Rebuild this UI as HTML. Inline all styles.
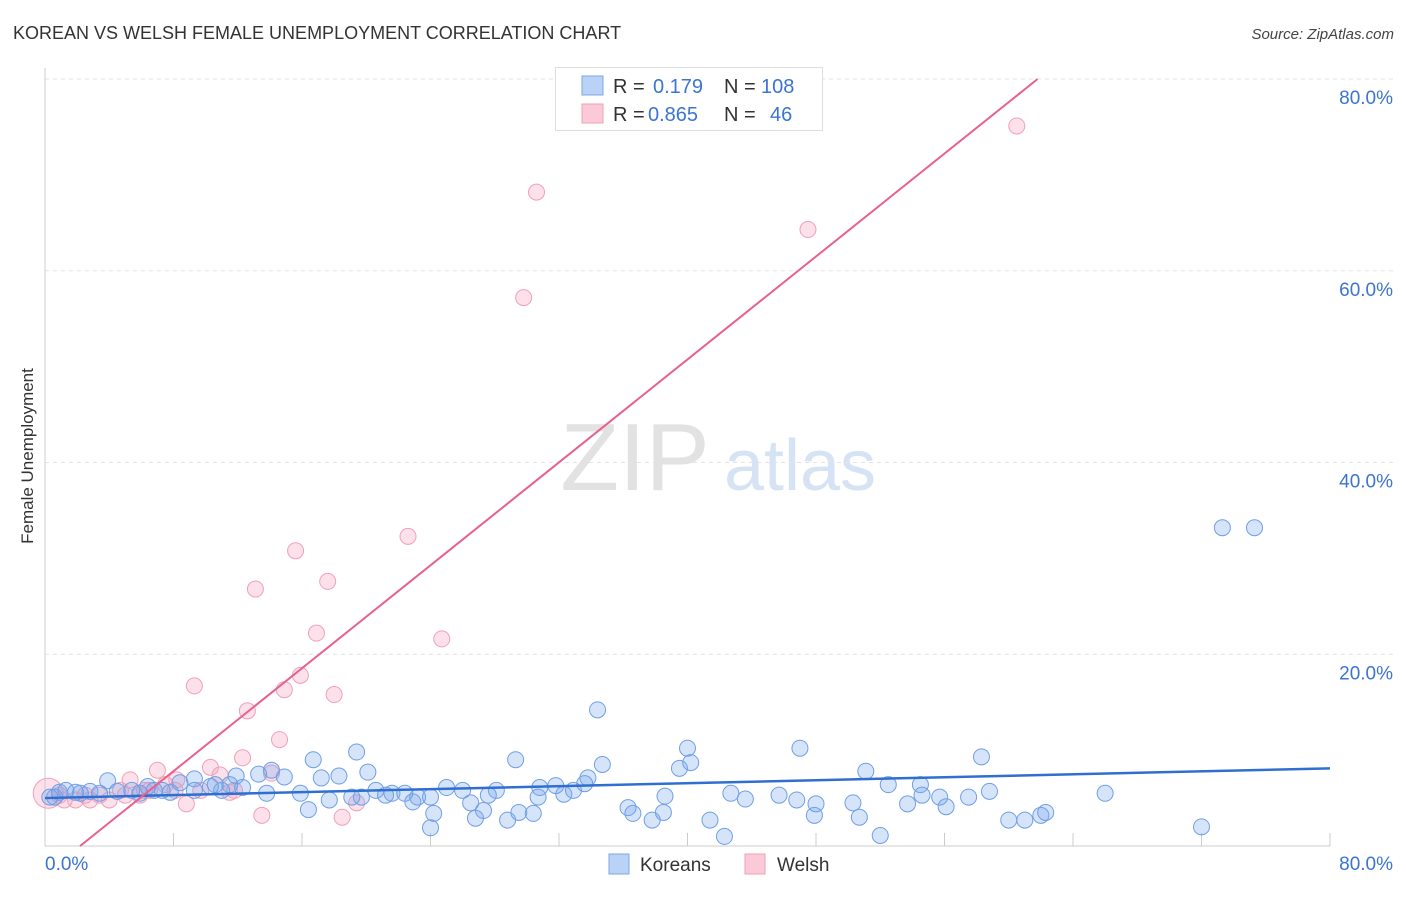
<!DOCTYPE html>
<html><head><meta charset="utf-8"><style>
body{margin:0;background:#fff;font-family:"Liberation Sans",sans-serif;}
svg text{font-family:"Liberation Sans",sans-serif;}
</style></head><body>
<svg id="chart" width="1406" height="892" xmlns="http://www.w3.org/2000/svg">
<text x="13" y="39" font-size="18" fill="#333">KOREAN VS WELSH FEMALE UNEMPLOYMENT CORRELATION CHART</text>
<text x="1394" y="39" font-size="15" fill="#444" text-anchor="end" font-style="italic">Source: ZipAtlas.com</text>
<text transform="translate(33,456) rotate(-90)" font-size="17" fill="#333" text-anchor="middle">Female Unemployment</text>
<g>
<text x="635" y="490" font-size="96" fill="#e2e2e2" text-anchor="middle" font-family="Liberation Serif,serif">ZIP</text>
<text x="800" y="490" font-size="72" fill="#d6e3f5" text-anchor="middle">atlas</text>
</g>
<g id="grid"></g><g id="marks"></g>
<g>
<rect x="555.5" y="67.5" width="267" height="63" fill="#fff" stroke="#ddd"/>
<rect x="582" y="76" width="21" height="19" fill="#b9d2f5" stroke="#7aa8e8"/>
<rect x="582" y="104" width="21" height="19" fill="#fbc9d8" stroke="#f0a0b8"/>
<text x="613" y="93" font-size="20" fill="#333">R =</text><text x="653" y="93" font-size="20" fill="#3b74d1">0.179</text>
<text x="724" y="93" font-size="20" fill="#333">N =</text><text x="761" y="93" font-size="20" fill="#3b74d1">108</text>
<text x="613" y="121" font-size="20" fill="#333">R =</text><text x="648" y="121" font-size="20" fill="#3b74d1">0.865</text>
<text x="724" y="121" font-size="20" fill="#333">N =</text><text x="770" y="121" font-size="20" fill="#3b74d1">46</text>
</g>
<g>
<rect x="609" y="854" width="20" height="20" fill="#b9d2f5" stroke="#7aa8e8"/>
<text x="640" y="871" font-size="19" fill="#333">Koreans</text>
<rect x="745" y="854" width="20" height="20" fill="#fbc9d8" stroke="#f0a0b8"/>
<text x="777" y="871" font-size="19" fill="#333">Welsh</text>
</g>
</svg>
<script>
const yTicks=[20,40,60,80];
const xTickLabels=["0.0%","80.0%"];
const koreanX=[73.3,75.3,34.4,40.0,47.0,29.3,19.4,16.7,58.3,40.2,51.1,39.5,34.7,66.0,33.8,31.8,25.0,26.0,28.1,20.1,18.3,17.2,14.1,14.9,11.9,13.3,9.3,3.9,15.9,13.8,12.3,11.0,10.3,8.4,7.3,6.4,5.4,4.5,2.8,1.9,0.9,0.6,0.3,21.6,22.4,23.2,22.9,26.5,27.6,30.7,32.3,32.9,33.6,36.3,36.6,37.8,38.6,38.5,41.4,42.3,42.7,43.6,45.7,46.8,47.9,48.0,50.3,50.7,52.0,52.5,53.7,54.5,54.6,55.7,56.1,57.5,58.8,60.0,61.0,62.0,62.3,72.0,24.0,24.2,26.8,27.3,28.8,29.5,30.4,24.0,19.1,19.7,17.7,16.4,20.6,21.2,30.8,11.5,10.6,9.3,7.8,6.8,5.9,3.4,2.2,1.3];
const koreanY=[33.2,33.2,14.2,10.2,10.2,9.0,9.8,9.0,9.3,8.7,7.8,8.1,8.5,5.5,7.1,6.3,6.1,5.8,5.8,7.7,7.3,7.1,7.9,7.2,7.3,7.5,7.0,6.8,5.5,5.5,6.1,5.8,6.2,6.6,5.8,6.2,5.8,5.7,5.7,5.6,5.6,5.1,5.1,5.5,5.5,5.1,4.6,4.5,5.3,5.1,5.4,5.8,6.5,4.0,3.4,2.7,5.2,3.5,2.7,1.0,5.5,4.9,5.3,4.8,3.2,4.4,4.5,3.0,1.1,6.4,4.4,6.4,5.3,5.1,4.1,5.1,5.7,2.7,2.7,3.2,3.5,2.0,1.9,3.4,2.9,3.7,2.7,3.5,3.4,5.1,5.1,5.1,4.8,3.8,5.8,5.3,6.1,6.4,6.4,5.8,5.6,5.8,5.5,5.5,5.5,5.8];
const welshX=[60.5,30.6,47.5,29.8,22.6,15.6,13.1,17.6,16.9,24.7,9.3,14.9,15.9,18.0,12.6,14.6,12.3,7.0,10.3,14.1,8.2,8.8,13.5,18.5,19.4,0.9,1.9,2.8,3.4,4.7,5.3,5.9,6.5,7.5,9.7,11.5,10.9,4.0,2.5,5.0,6.2,8.1,11.8,1.2,0.2];
const welshY=[75.1,68.2,64.3,57.2,32.3,30.8,26.8,27.6,22.2,21.6,16.7,16.3,17.8,15.8,14.1,11.1,9.2,7.9,8.2,7.6,6.9,4.4,3.2,3.0,4.5,5.3,4.8,4.8,5.3,5.8,6.9,5.3,5.8,6.4,5.8,5.6,7.4,4.8,5.3,5.3,5.8,5.8,5.8,4.8,5.5];
const koreanLine=[5.0,8.1];
const welshLine={slope:1.342,intercept:-2.93};
const NS="http://www.w3.org/2000/svg";
const X0=45,X1=1330,Y0=846,Y80=79;
const sx=v=>X0+(v/80)*(X1-X0);
const sy=v=>Y0-(v/80)*(Y0-Y80);
function mk(t,a,p){const e=document.createElementNS(NS,t);for(const k in a)e.setAttribute(k,a[k]);p.appendChild(e);return e;}
const grid=document.getElementById('grid'),marks=document.getElementById('marks');
yTicks.forEach(t=>{
 const l=mk('line',{x1:X0,x2:1393,y1:sy(t),y2:sy(t),stroke:'#e3e3e3','stroke-dasharray':'4,4'},grid);
 
 
 const tx=mk('text',{x:1393,y:sy(t)+25,'font-size':19,fill:'#3b74d1','text-anchor':'end'},grid);
 tx.textContent=t.toFixed(1)+'%';
 
 
});
const ax=mk('line',{x1:X0,x2:X0,y1:68,y2:Y0,stroke:'#ccc'},grid);


const bx=mk('line',{x1:X0,x2:X1,y1:Y0,y2:Y0,stroke:'#ccc'},grid);


for(let i=0;i<=10;i++){const v=i*8;const t=mk('line',{x1:sx(v),x2:sx(v),y1:Y0,y2:Y0-13,stroke:'#ccc'},grid);
 
 }
const xl0=mk('text',{x:45,y:870,'font-size':19,fill:'#3b74d1'},grid);xl0.textContent=xTickLabels[0];


const xl1=mk('text',{x:1393,y:870,'font-size':19,fill:'#3b74d1','text-anchor':'end'},grid);xl1.textContent=xTickLabels[1];


welshX.forEach((x,i)=>{const c=mk('circle',{cx:sx(x),cy:sy(welshY[i]),r:i===welshX.length-1?15:8,fill:'rgba(246,170,195,0.35)',stroke:'#f0a0b8','stroke-width':1},marks);
 
 });
koreanX.forEach((x,i)=>{const c=mk('circle',{cx:sx(x),cy:sy(koreanY[i]),r:8,fill:'rgba(120,165,235,0.3)',stroke:'#6f9fe6','stroke-width':1},marks);
 
 });
const bl=mk('line',{x1:sx(0),y1:sy(koreanLine[0]),x2:sx(80),y2:sy(koreanLine[1]),stroke:'#2f6fd0','stroke-width':2.5},marks);


const xa=-welshLine.intercept/welshLine.slope, xb=(80-welshLine.intercept)/welshLine.slope;
const pl=mk('line',{x1:sx(xa),y1:sy(0),x2:sx(xb),y2:sy(80),stroke:'#e8608e','stroke-width':2},marks);


</script>
</body></html>
